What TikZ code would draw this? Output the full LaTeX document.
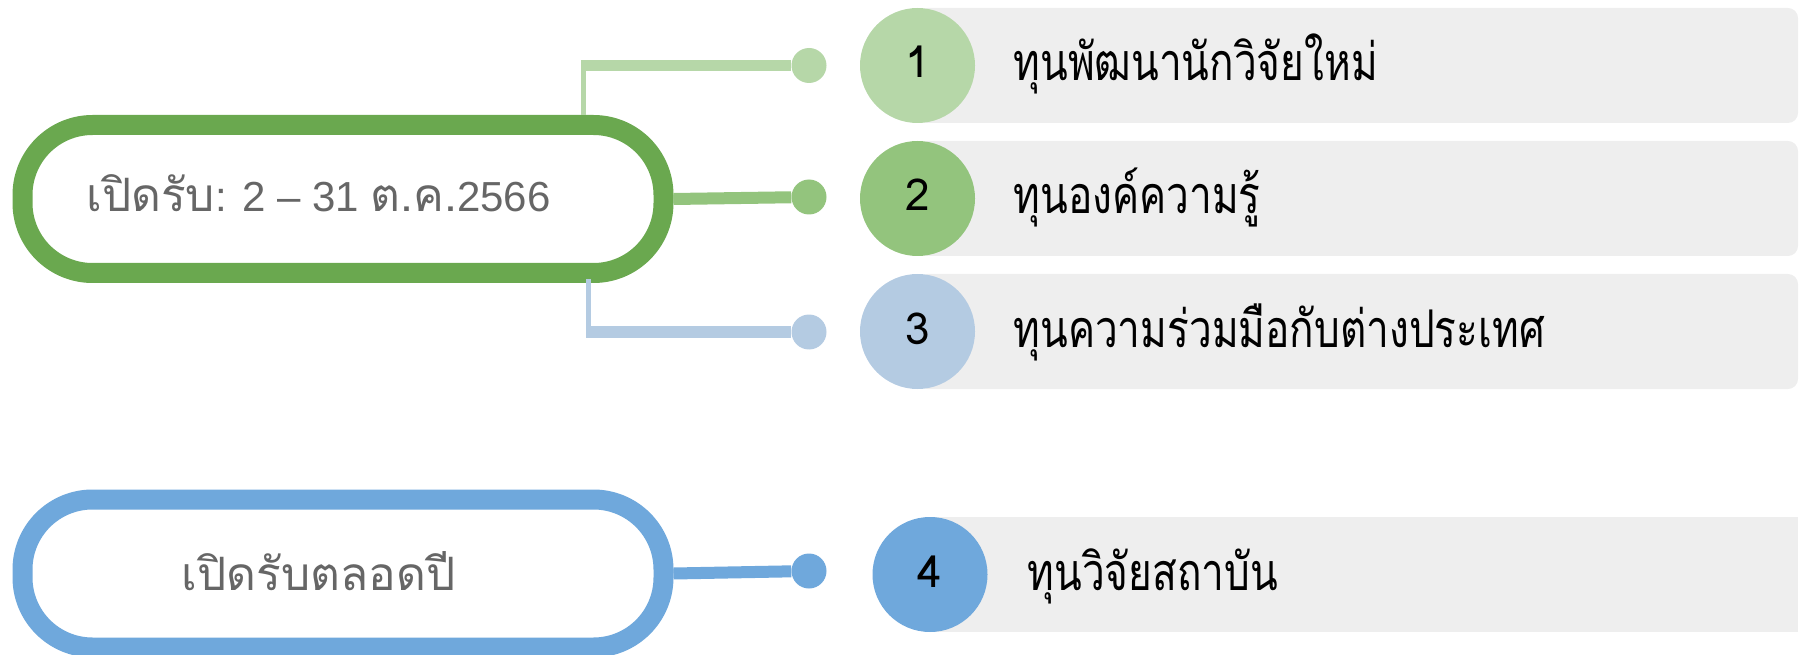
\documentclass[tikz,border=0pt]{standalone}
\usepackage{fontspec}
\setmainfont{Liberation Sans}
\newfontfamily\thaifont[Script=Thai]{Loma}
\newfontfamily\thaischmal[Script=Thai,FakeStretch=0.78]{Loma}
\usetikzlibrary{positioning}
\definecolor{gruen}{HTML}{6AA84F}
\definecolor{gruenmittel}{HTML}{93C47D}
\definecolor{gruenhell}{HTML}{B6D7A8}
\definecolor{blauhell}{HTML}{B4CBE2}
\definecolor{blau}{HTML}{6FA8DC}
\definecolor{balken}{HTML}{EEEEEE}
\definecolor{grau}{HTML}{666666}
\newcommand{\pillfont}{\fontsize{42}{50}\selectfont}
\newcommand{\thtext}[1]{{\thaifont\fontsize{46}{54}\selectfont #1}}
\newcommand{\listfont}{\thaischmal\fontsize{52}{60}\selectfont}
\begin{document}
\begin{tikzpicture}[x=1pt,y=-1pt,
  pill/.style={draw, fill=white, line width=20pt, rounded corners=70pt,
    minimum width=641pt, minimum height=148pt, outer sep=10pt},
  punkt/.style={circle, inner sep=0pt, minimum size=35pt},
  kreis/.style={circle, inner sep=0pt, minimum size=115pt},
  zahl/.style={anchor=base, font=\thaifont\fontsize{44}{52}\selectfont},
  eintrag/.style={anchor=base west, font=\listfont}]
\useasboundingbox (0,0) rectangle (1808,655);
% Ovale
\node[pill, draw=gruen] (P1) at (343,199) {};
\node[pill, draw=blau] (P2) at (343,573.5) {};
\node[anchor=base, font=\pillfont, text=grau] (L1) at (318.5,212) {\thtext{เปิดรับ}: 2 – 31 \thtext{ต.ค.}2566};
\node[anchor=base, font=\thaifont\fontsize{46}{54}\selectfont, text=grau] (L2) at (318.5,590) {เปิดรับตลอดปี};
% Punkte
\node[punkt, fill=gruenhell] (D1) at (809,65.5) {};
\node[punkt, fill=gruenmittel] (D2) at (809,197) {};
\node[punkt, fill=blauhell] (D3) at (809,332) {};
\node[punkt, fill=blau] (D4) at (809,571) {};
% Verbindungen
\coordinate (K1) at ([xshift=240.5pt]P1.north);
\coordinate (E1) at (K1 |- D1);
\draw[gruenhell, line width=5pt] (K1) -- ([yshift=5.5pt]E1);
\draw[gruenhell, line width=11pt] (E1) -- (D1);
\draw[gruenmittel, line width=12pt] (P1.east) -- (D2);
\coordinate (K3) at ([xshift=245pt, yshift=4pt]P1.south);
\coordinate (E3) at (K3 |- D3);
\draw[blauhell, line width=5pt] (K3) -- ([yshift=-6pt]E3);
\draw[blauhell, line width=12pt] (E3) -- (D3);
\draw[blau, line width=12pt] (P2.east) -- (D4);
% Balken
\fill[balken, rounded corners=10pt] (917.5,8) rectangle (1798,123);
\fill[balken, rounded corners=10pt] (917.5,141) rectangle (1798,256);
\fill[balken, rounded corners=10pt] (917.5,274) rectangle (1798,389);
\fill[balken] (930,517) rectangle (1798,632);
\node[kreis, fill=gruenhell] (C1) at (917.5,65.5) {};
\node[kreis, fill=gruenmittel] (C2) at (917.5,198.5) {};
\node[kreis, fill=blauhell] (C3) at (917.5,331.5) {};
\node[kreis, fill=blau] (C4) at (930,574.5) {};
% Beschriftungen
\node[zahl] (N1) at (917.5,78) {1};
\node[zahl] (N2) at (917.5,211) {2};
\node[zahl] (N3) at (917.5,344) {3};
\node[zahl] (N4) at (930,587) {4};
\node[eintrag] (T1) at (1010,81) {ทุนพัฒนานักวิจัยใหม่};
\node[eintrag] (T2) at (1010,214) {ทุนองค์ความรู้};
\node[eintrag] (T3) at (1010,347) {ทุนความร่วมมือกับต่างประเทศ};
\node[eintrag] (T4) at (1024,590) {ทุนวิจัยสถาบัน};
\end{tikzpicture}
\end{document}
